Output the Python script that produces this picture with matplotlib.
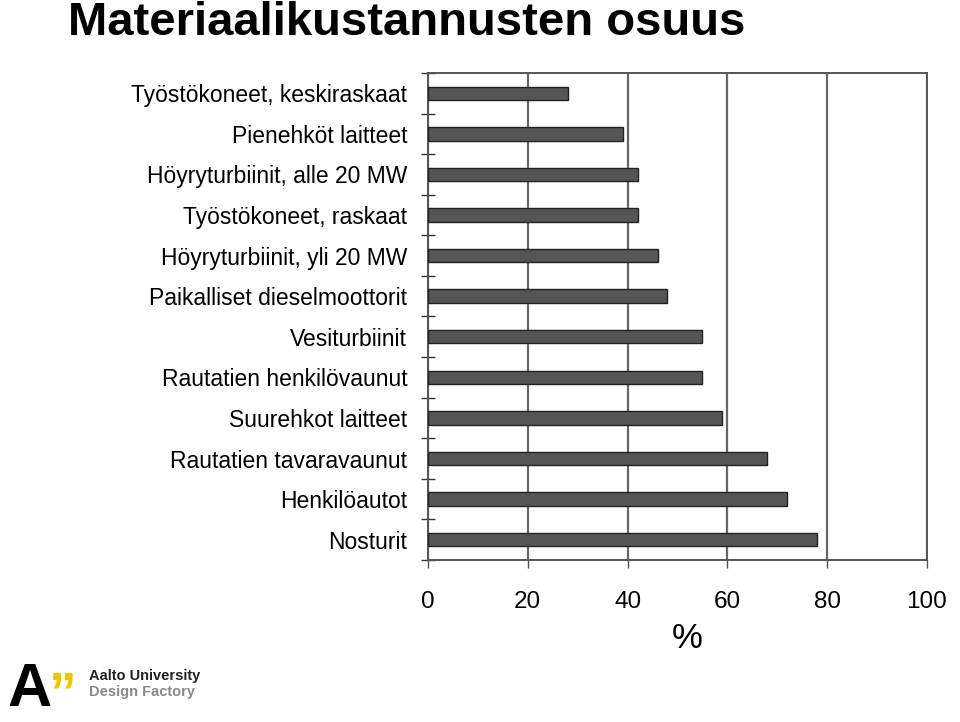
import matplotlib
matplotlib.use('Agg')
import matplotlib.pyplot as plt
import numpy as np

plt.rcParams['font.family'] = ['Liberation Sans', 'DejaVu Sans']

# Bars listed bottom to top
categories = [
    'Nosturit',
    'Henkilöautot',
    'Rautatien tavaravaunut',
    'Suurehkot laitteet',
    'Rautatien henkilövaunut',
    'Vesiturbiinit',
    'Paikalliset dieselmoottorit',
    'Höyryturbiinit, yli 20 MW',
    'Työstökoneet, raskaat',
    'Höyryturbiinit, alle 20 MW',
    'Pienehköt laitteet',
    'Työstökoneet, keskiraskaat',
]
shares = [78, 72, 68, 59, 55, 55, 48, 46, 42, 42, 39, 28]
x_ticks = [0, 20, 40, 60, 80, 100]

fig = plt.figure(figsize=(9.6, 7.22), dpi=100)
ax = fig.add_axes([0.4458, 0.2244, 0.5198, 0.6746])

positions = np.arange(len(categories))
ax.barh(positions, shares, height=0.33, color='#555555', edgecolor='#222222',
        linewidth=1.0, zorder=3)

ax.set_xlim(0, 100)
ax.set_ylim(-0.5, len(categories) - 0.5)
ax.set_xticks(x_ticks)
ax.set_xticklabels([str(t) for t in x_ticks], fontsize=17.5)

# category labels centred on bars, ticks on the boundaries between them
ax.set_yticks(positions)
ax.set_yticklabels(categories, fontsize=16.5)
ax.tick_params(axis='y', which='major', length=0, pad=15)
ax.set_yticks(np.arange(len(categories) + 1) - 0.5, minor=True)
ax.tick_params(axis='y', which='minor', direction='inout', length=10,
               width=1.0, color='#333333')
ax.tick_params(axis='x', which='major', direction='out', length=6,
               width=1.0, color='#555555', pad=16)

ax.grid(axis='x', color='#666666', linewidth=1.6, zorder=0)
for side in ['top', 'bottom', 'left', 'right']:
    ax.spines[side].set_color('#555555')
    ax.spines[side].set_linewidth(1.4)

ax.set_xlabel('%', fontsize=25, labelpad=6)
ax.xaxis.set_label_coords(0.52, -0.128)

fig.text(0.071, 0.999, 'Materiaalikustannusten osuus', fontsize=34,
         fontweight='bold', va='top', ha='left',
         family=['Liberation Sans Narrow', 'Liberation Sans'])

# logo
fig.text(0.008, 0.043, 'A', fontsize=44, fontweight='bold', color='black',
         va='center', ha='left')
fig.text(0.051, 0.036, '\u201d', fontsize=40, fontweight='bold', color='#f5c400',
         va='center', ha='left')
fig.text(0.093, 0.064, 'Aalto University', fontsize=10.5, fontweight='bold',
         color='#222222', va='center', ha='left')
fig.text(0.093, 0.041, 'Design Factory', fontsize=10.5, fontweight='bold',
         color='#8a8a8a', va='center', ha='left')

fig.savefig('out.png', dpi=100)
